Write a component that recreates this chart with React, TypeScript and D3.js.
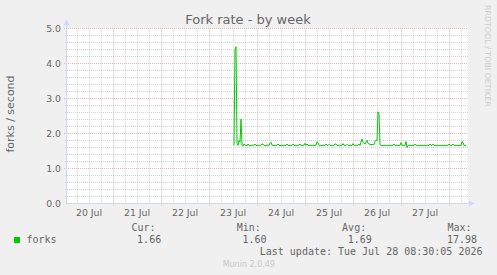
import React from "react";
import * as d3 from "d3";

// ---- data ----
const seriesName = "forks";
const seriesStart = new Date(2026, 6, 23, 12, 30); // first sample
const stepMinutes = 30;
const forks: number[] = [
  1.66, 4.40, 4.48, 1.72, 1.66, 1.80, 1.75, 2.41, 1.66, 1.64, 1.70, 1.66, 1.66, 1.65, 1.70, 1.66,
  1.66, 1.65, 1.66, 1.67, 1.66, 1.70, 1.66, 1.65, 1.66, 1.66, 1.67, 1.66, 1.70, 1.70, 1.66, 1.65,
  1.66, 1.66, 1.67, 1.66, 1.72, 1.75, 1.67, 1.66, 1.65, 1.66, 1.66, 1.67, 1.70, 1.66, 1.66, 1.65,
  1.66, 1.66, 1.67, 1.66, 1.66, 1.70, 1.66, 1.65, 1.66, 1.66, 1.66, 1.70, 1.66, 1.65, 1.66, 1.66,
  1.66, 1.67, 1.70, 1.66, 1.66, 1.66, 1.67, 1.72, 1.66, 1.70, 1.66, 1.65, 1.66, 1.66, 1.67, 1.66,
  1.66, 1.66, 1.67, 1.76, 1.74, 1.66, 1.65, 1.66, 1.66, 1.66, 1.66, 1.66, 1.70, 1.66, 1.66, 1.69,
  1.66, 1.65, 1.66, 1.66, 1.66, 1.70, 1.70, 1.66, 1.66, 1.66, 1.66, 1.66, 1.66, 1.71, 1.66, 1.66,
  1.66, 1.69, 1.66, 1.66, 1.66, 1.66, 1.66, 1.71, 1.66, 1.66, 1.66, 1.66, 1.66, 1.70, 1.66, 1.76,
  1.84, 1.75, 1.72, 1.70, 1.75, 1.80, 1.72, 1.70, 1.69, 1.68, 1.69, 1.68, 1.68, 1.78, 1.81, 1.80,
  2.62, 2.55, 1.68, 1.66, 1.66, 1.65, 1.66, 1.66, 1.66, 1.66, 1.66, 1.66, 1.66, 1.66, 1.66, 1.66,
  1.70, 1.66, 1.66, 1.66, 1.66, 1.66, 1.66, 1.74, 1.66, 1.66, 1.66, 1.66, 1.77, 1.60, 1.66, 1.66,
  1.66, 1.66, 1.66, 1.66, 1.66, 1.70, 1.66, 1.66, 1.66, 1.66, 1.66, 1.66, 1.66, 1.66, 1.66, 1.66,
  1.66, 1.66, 1.66, 1.66, 1.70, 1.66, 1.66, 1.70, 1.66, 1.66, 1.66, 1.66, 1.66, 1.66, 1.66, 1.66,
  1.66, 1.66, 1.66, 1.66, 1.66, 1.66, 1.66, 1.70, 1.66, 1.66, 1.66, 1.70, 1.66, 1.66, 1.66, 1.66,
  1.66, 1.66, 1.66, 1.66, 1.77, 1.75, 1.66, 1.66, 1.66,
];
const timeDomain = [new Date(2026, 6, 20, 0, 30), new Date(2026, 6, 28, 9, 30)];
const yDomain = [0, 5];
const yTicks = [0, 1, 2, 3, 4, 5];
const xTickLabels = ["20 Jul", "21 Jul", "22 Jul", "23 Jul", "24 Jul", "25 Jul", "26 Jul", "27 Jul"];
const legendLabels = ["Cur:", "Min:", "Avg:", "Max:"];
const legendValues = ["1.66", "1.60", "1.69", "17.98"];
const title = "Fork rate - by week";
const yLabel = "forks / second";
const lastUpdate = "Last update: Tue Jul 28 08:30:05 2026";
const watermark = "Munin 2.0.49";
const sideText = "RRDTOOL / TOBI OETIKER";

const W = 497, H = 275;
const L = 66, R = 468, T = 28.5, B = 203.5;
const SANS = "'DejaVu Sans', sans-serif";
const MONO = "'DejaVu Sans Mono', monospace";
const FONT_COL = "#666666";
const AXIS_COL = "#CFD6F8";
const GRID_COL = "#d2d2d2";
const MGRID_COL = "#ebb4b4";
const LINE_COL = "#00cc00";

export default function App() {
  const x = d3.scaleTime().domain(timeDomain).range([L, R]);
  const y = d3.scaleLinear().domain(yDomain).range([B, T]);

  const pts = forks.map((v, i) => ({ t: d3.timeMinute.offset(seriesStart, i * stepMinutes), v }));
  const line = d3.line<{ t: Date; v: number }>().x((d) => x(d.t)).y((d) => y(d.v));

  const days = d3.timeDay.range(d3.timeDay.ceil(timeDomain[0]), timeDomain[1]);
  const sixHours = d3.timeHour.every(6)!.range(timeDomain[0], timeDomain[1]).filter((d) => d.getHours() !== 0);
  const minorY = d3.range(0, 5.0001, 0.2).filter((v) => Math.abs(v - Math.round(v)) > 0.01);
  const noons = d3.timeDay.range(d3.timeDay.floor(timeDomain[0]), timeDomain[1]).map((d) => d3.timeHour.offset(d, 12));

  const px = (v: number) => Math.round(v) + 0.5;

  return (
    <svg width={W} height={H} style={{ position: "absolute", left: 0, top: 0 }}>
      <rect x={0} y={0} width={W} height={H} fill="#f0f0f0" />
      <rect x={L} y={28} width={R - L} height={B - 28} fill="#ffffff" />

      {/* minor grid */}
      {sixHours.map((d, i) => (
        <line key={"vx" + i} x1={px(x(d))} x2={px(x(d))} y1={T} y2={B + 1} stroke={GRID_COL} strokeDasharray="1,1" />
      ))}
      {minorY.map((v, i) => (
        <line key={"hy" + i} x1={L - 1} x2={R} y1={px(y(v) - 0.5)} y2={px(y(v) - 0.5)} stroke={GRID_COL} strokeDasharray="1,1" />
      ))}
      {/* major grid */}
      {days.map((d, i) => (
        <line key={"mx" + i} x1={px(x(d))} x2={px(x(d))} y1={T} y2={B + 2.5} stroke={MGRID_COL} strokeDasharray="1,1" />
      ))}
      {yTicks.filter((v) => v > 0).map((v, i) => (
        <line key={"my" + i} x1={L - 2} x2={R} y1={px(y(v) - 0.5)} y2={px(y(v) - 0.5)} stroke={MGRID_COL} strokeDasharray="1,1" />
      ))}

      {/* axes */}
      <line x1={L + 0.5} x2={L + 0.5} y1={B + 0.5} y2={22} stroke={AXIS_COL} />
      <path d={`M${L - 2.5},25 L${L + 0.5},19.5 L${L + 3.5},25 Z`} fill={AXIS_COL} />
      <line x1={L} x2={470} y1={B} y2={B} stroke={AXIS_COL} />
      <path d={`M469,${B - 3} L474.5,${B} L469,${B + 3} Z`} fill={AXIS_COL} />

      {/* series */}
      <path d={line(pts) || ""} fill="none" stroke={LINE_COL} strokeWidth={1} />

      {/* y ticks */}
      {yTicks.map((v) => (
        <text key={"yt" + v} x={61} y={y(v) + 3.4} textAnchor="end" fontFamily={SANS} fontSize={9.3} fill={FONT_COL}>
          {v.toFixed(1)}
        </text>
      ))}
      {/* x ticks */}
      {noons.map((d, i) => (
        <text key={"xt" + i} x={x(d)} y={216} textAnchor="middle" fontFamily={SANS} fontSize={9.3} fill={FONT_COL}>
          {xTickLabels[i]}
        </text>
      ))}

      {/* title & labels */}
      <text x={248} y={24} textAnchor="middle" fontFamily={SANS} fontSize={13} fill={FONT_COL}>{title}</text>
      <text transform="translate(14,114) rotate(-90)" textAnchor="middle" fontFamily={SANS} fontSize={11} fill={FONT_COL}>{yLabel}</text>
      <text transform="translate(485,5) rotate(90)" textAnchor="start" fontFamily={SANS} fontSize={7.9} fill="#cccccc">{sideText}</text>

      {/* legend */}
      <rect x={14} y={237} width={6} height={6} fill={LINE_COL} />
      <text x={26.5} y={243} fontFamily={MONO} fontSize={10} fill={FONT_COL}>{seriesName}</text>
      {legendLabels.map((lab, i) => (
        <text key={"ll" + i} x={131.5 + i * 105.3} y={231} fontFamily={MONO} fontSize={10} fill={FONT_COL}>{lab}</text>
      ))}
      {legendValues.map((val, i) => (
        <text key={"lv" + i} x={161.2 + i * 105.3} y={243} textAnchor="end" fontFamily={MONO} fontSize={10} fill={FONT_COL}>{val}</text>
      ))}
      <text x={482.5} y={255} textAnchor="end" fontFamily={MONO} fontSize={10} fill={FONT_COL}>{lastUpdate}</text>
      <text x={248.8} y={267} textAnchor="middle" fontFamily={SANS} fontSize={8} fill="#c8c8c8">{watermark}</text>
    </svg>
  );
}
